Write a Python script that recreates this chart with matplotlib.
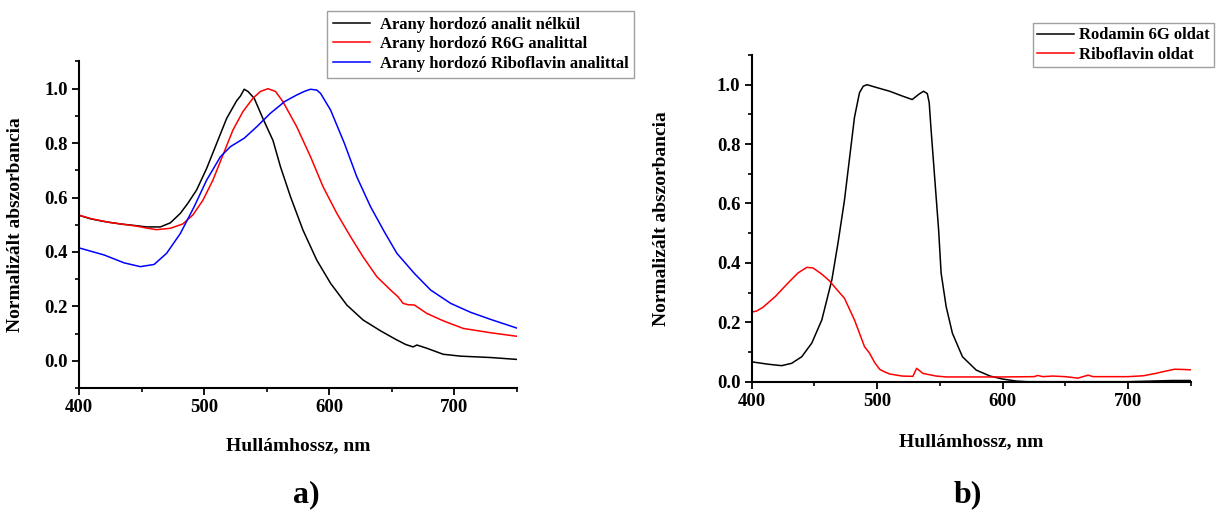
import matplotlib
matplotlib.use("Agg")
import matplotlib.pyplot as plt
from matplotlib.ticker import MultipleLocator, FormatStrFormatter

plt.rcParams["font.family"] = ["Liberation Serif", "DejaVu Serif"]
plt.rcParams["font.weight"] = "bold"

# --- a) gold substrate spectra -------------------------------------------
wl_bare = [400, 409, 420, 433, 445, 454, 465, 473, 481, 487, 494, 502, 510,
           518, 526, 529, 532, 535, 540, 547, 555, 561, 569, 579, 590, 601,
           614, 627, 641, 653, 661, 667, 670, 678, 691, 705, 729, 750]
abs_bare = [0.535, 0.522, 0.512, 0.503, 0.497, 0.492, 0.492, 0.507, 0.542,
            0.579, 0.628, 0.707, 0.799, 0.891, 0.956, 0.973, 0.998, 0.99,
            0.965, 0.89, 0.81, 0.713, 0.603, 0.48, 0.37, 0.285, 0.205, 0.15,
            0.11, 0.079, 0.06, 0.051, 0.058, 0.046, 0.024, 0.017, 0.012, 0.005]

wl_r6g = [400, 410, 425, 446, 455, 462, 473, 483, 491, 499, 507, 515, 523,
          531, 539, 545, 551, 557, 563, 574, 585, 595, 606, 617, 627, 638,
          649, 655, 659, 663, 668, 678, 691, 707, 729, 750]
abs_r6g = [0.535, 0.522, 0.508, 0.495, 0.487, 0.482, 0.487, 0.503, 0.536,
           0.59, 0.664, 0.756, 0.848, 0.916, 0.965, 0.99, 1.0, 0.99, 0.952,
           0.86, 0.75, 0.64, 0.542, 0.456, 0.382, 0.309, 0.26, 0.235, 0.211,
           0.206, 0.205, 0.174, 0.147, 0.119, 0.103, 0.09]

wl_rf = [400, 420, 436, 449, 460, 470, 481, 492, 502, 513, 521, 532, 542,
         553, 561, 564, 574, 580, 585, 590, 593, 601, 612, 622, 633, 644,
         654, 668, 681, 697, 713, 729, 750]
abs_rf = [0.415, 0.389, 0.36, 0.346, 0.354, 0.395, 0.468, 0.566, 0.664,
          0.75, 0.787, 0.818, 0.86, 0.91, 0.94, 0.952, 0.977, 0.99, 0.998,
          0.995, 0.983, 0.922, 0.80, 0.676, 0.566, 0.474, 0.395, 0.321,
          0.26, 0.211, 0.178, 0.152, 0.12]

labels_a = ["Arany hordozó analit nélkül",
            "Arany hordozó R6G analittal",
            "Arany hordozó Riboflavin analittal"]

# --- b) dye solution spectra ---------------------------------------------
wl_r6g_sol = [400, 413, 424, 432, 440, 448, 456, 464, 469, 474, 478, 482,
              486, 489, 492, 500, 510, 520, 528, 533, 537, 540, 541.5, 543,
              546, 549, 551, 555, 560, 568, 579, 590, 600, 611, 620, 700,
              735, 750]
abs_r6g_sol = [0.067, 0.059, 0.054, 0.062, 0.084, 0.13, 0.208, 0.343, 0.47,
               0.61, 0.75, 0.89, 0.973, 0.995, 1.0, 0.99, 0.978, 0.962, 0.95,
               0.967, 0.978, 0.97, 0.94, 0.849, 0.68, 0.512, 0.366, 0.253,
               0.163, 0.084, 0.039, 0.019, 0.009, 0.002, 0.0, 0.0, 0.004,
               0.004]

wl_rf_sol = [400, 404, 409, 419, 429, 437, 444, 449, 456, 462, 468, 474,
             482, 490, 494, 498, 502, 506, 510, 520, 528.5, 531.5, 536.5,
             547, 555, 600, 625, 628, 632, 640, 650, 660, 668, 672, 700,
             712, 722, 728, 737, 745, 750]
abs_rf_sol = [0.234, 0.238, 0.250, 0.287, 0.332, 0.366, 0.385, 0.383, 0.362,
              0.340, 0.31, 0.281, 0.208, 0.118, 0.096, 0.065, 0.042, 0.033,
              0.026, 0.019, 0.018, 0.045, 0.028, 0.019, 0.016, 0.016, 0.017,
              0.021, 0.017, 0.019, 0.017, 0.012, 0.022, 0.017, 0.017, 0.020,
              0.028, 0.034, 0.042, 0.041, 0.040]

labels_b = ["Rodamin 6G oldat", "Riboflavin oldat"]

xlabel = "Hullámhossz, nm"
ylabel = "Normalizált abszorbancia"

W, H = 1217, 511
fig = plt.figure(figsize=(W / 100, H / 100), dpi=100)

ax_a = fig.add_axes([79 / W, 1 - 388 / H, (517 - 79) / W, (388 - 61.5) / H])
ax_b = fig.add_axes([751.5 / W, 1 - 381.7 / H, (1191 - 751.5) / W,
                     (381.7 - 55) / H])

lw = 1.1
la1, = ax_a.plot(wl_bare, abs_bare, color="black", lw=lw)
la2, = ax_a.plot(wl_r6g, abs_r6g, color="#ff0000", lw=lw)
la3, = ax_a.plot(wl_rf, abs_rf, color="#0000ff", lw=lw)

lb1, = ax_b.plot(wl_r6g_sol, abs_r6g_sol, color="black", lw=lw)
lb2, = ax_b.plot(wl_rf_sol, abs_rf_sol, color="#ff0000", lw=lw)

ax_a.set_xlim(400, 750)
ax_a.set_ylim(-0.1, 1.1)
ax_b.set_xlim(400, 750)
ax_b.set_ylim(0.0, 1.1)

for ax in (ax_a, ax_b):
    ax.spines["top"].set_visible(False)
    ax.spines["right"].set_visible(False)
    ax.spines["left"].set_linewidth(1.5)
    ax.spines["bottom"].set_linewidth(1.5)
    ax.xaxis.set_major_locator(MultipleLocator(100))
    ax.xaxis.set_minor_locator(MultipleLocator(50))
    ax.yaxis.set_major_locator(MultipleLocator(0.2))
    ax.yaxis.set_minor_locator(MultipleLocator(0.1))
    ax.tick_params(which="major", direction="out", length=5, width=1.3,
                   labelsize=13.5, pad=3)
    ax.tick_params(which="minor", direction="out", length=2.6, width=1.2)
    ax.yaxis.set_major_formatter(FormatStrFormatter("%.1f"))
    for t in ax.get_xticklabels() + ax.get_yticklabels():
        t.set_fontweight("bold")
    ax.set_xlabel(xlabel, fontsize=14, fontweight="bold")
    ax.set_ylabel(ylabel, fontsize=14, fontweight="bold", va="center",
                  ha="center")

ax_a.xaxis.set_label_coords(0.5, -(437 - 388) / (388 - 61.5))
ax_a.yaxis.set_label_coords((16 - 79) / (517 - 79), 0.5)
ax_b.xaxis.set_label_coords(0.5, -(433 - 381.7) / (381.7 - 55))
ax_b.yaxis.set_label_coords((662 - 751.5) / (1191 - 751.5), 0.5)

leg_kw = dict(loc="upper left", prop={"weight": "bold", "size": 12},
              frameon=True, fancybox=False, borderaxespad=0,
              handlelength=2.2, labelspacing=0.22)
leg_a = fig.legend([la1, la2, la3], labels_a,
                   bbox_to_anchor=(327 / W, 1 - 10.7 / H),
                   borderpad=0.35, handletextpad=0.6, **leg_kw)
leg_b = fig.legend([lb1, lb2], labels_b,
                   bbox_to_anchor=(1033 / W, 1 - 23.3 / H),
                   borderpad=0.25, handletextpad=0.3, **leg_kw)
for leg in (leg_a, leg_b):
    leg.get_frame().set_edgecolor("#888888")
    leg.get_frame().set_linewidth(1.0)

fig.text(306 / W, 1 - 495 / H, "a)", fontsize=23, fontweight="bold",
         ha="center", va="center")
fig.text(968 / W, 1 - 495 / H, "b)", fontsize=23, fontweight="bold",
         ha="center", va="center")

fig.savefig("out.png", dpi=100)
